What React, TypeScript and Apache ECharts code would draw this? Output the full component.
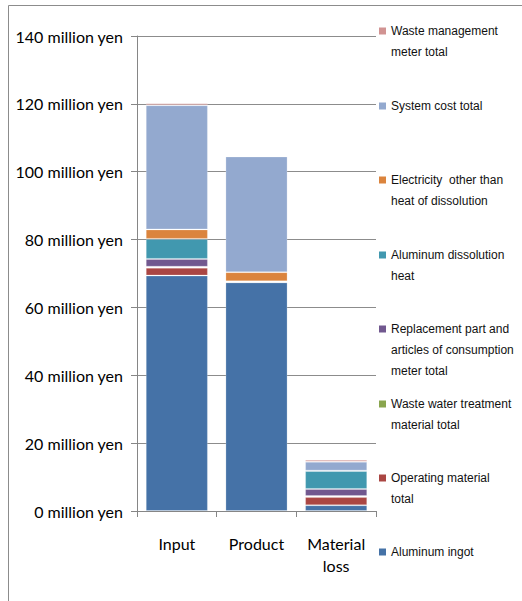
import React, { useEffect, useRef } from 'react';
import * as echarts from 'echarts';

// Categories (x axis)
const categories = ['Input', 'Product', 'Material\nloss'];

// Series (stacked bottom -> top), values in million yen
const seriesNames = [
  'Aluminum ingot',
  'Operating material total',
  'Waste water treatment material total',
  'Replacement part and articles of consumption meter total',
  'Aluminum dissolution heat',
  'Electricity  other than heat of dissolution',
  'System cost total',
  'Waste management meter total',
];
const legendLines = [
  ['Aluminum ingot'],
  ['Operating material', 'total'],
  ['Waste water treatment', 'material total'],
  ['Replacement part and', 'articles of consumption', 'meter total'],
  ['Aluminum dissolution', 'heat'],
  ['Electricity  other than', 'heat of dissolution'],
  ['System cost total'],
  ['Waste management', 'meter total'],
];
const colors = ['#4572A7', '#AA4643', '#89A54E', '#71588F', '#4198AF', '#DB843D', '#93A9CF', '#D19392'];

const aluminumIngot = [69.4, 67.4, 1.7];
const operatingMaterial = [2.3, 0, 2.4];
const wasteWater = [0.3, 0, 0.3];
const replacementPart = [2.3, 0, 2.1];
const dissolutionHeat = [5.9, 0.3, 5.3];
const electricity = [2.8, 2.7, 0.1];
const systemCost = [36.6, 34.1, 2.6];
const wasteManagement = [0.6, 0, 0.6];

const seriesValues = [
  aluminumIngot,
  operatingMaterial,
  wasteWater,
  replacementPart,
  dissolutionHeat,
  electricity,
  systemCost,
  wasteManagement,
];

// y axis
const yMin = 0;
const yMax = 140;
const yStep = 20;
const yUnit = 'million yen';

// layout: first-line text centre of each legend entry (same order as seriesNames)
const legendTextCenters = [556, 482, 408, 333, 259, 184, 110, 35];

export default function App() {
  const ref = useRef<HTMLDivElement>(null);

  useEffect(() => {
    if (!ref.current) return;
    const chart = echarts.init(ref.current, undefined, { renderer: 'svg' });
    const LH = 21;
    const PAD = 8;
    const legends = seriesNames.map((name, i) => {
      const lines = legendLines[i];
      const n = lines.length;
      const top = legendTextCenters[i] - PAD - (n - 1) * LH - LH / 2;
      const text = new Array(n - 1).fill('').concat(lines).join('\n');
      return {
        data: [name],
        orient: 'vertical',
        left: 379,
        top,
        padding: 0,
        itemGap: 0,
        itemWidth: 7,
        itemHeight: 7,
        icon: 'rect',
        selectedMode: false,
        itemStyle: { borderWidth: 0 },
        formatter: () => text,
        textStyle: {
          fontFamily: 'Liberation Sans',
          fontSize: 12,
          color: '#111',
          lineHeight: LH,
          padding: [PAD, 0, 0, 0],
        },
      };
    });

    chart.setOption({
      animation: false,
      color: colors,
      textStyle: { fontFamily: 'Lato' },
      grid: { left: 137, top: 36, right: 146, bottom: 90, containLabel: false },
      legend: legends,
      graphic: [
        {
          type: 'polyline',
          shape: { points: [[8.5, 601], [8.5, 5.5], [522, 5.5]] },
          style: { stroke: '#8c8c8c', lineWidth: 1, fill: 'none' },
          silent: true,
        },
      ],
      xAxis: {
        type: 'category',
        data: categories,
        axisLine: { lineStyle: { color: '#868686', width: 1 } },
        axisTick: { show: true, alignWithLabel: false, length: 6, lineStyle: { color: '#868686' } },
        axisLabel: {
          fontFamily: 'Lato',
          fontSize: 16,
          color: '#000',
          margin: 21,
          lineHeight: 22,
        },
      },
      yAxis: {
        type: 'value',
        min: yMin,
        max: yMax,
        interval: yStep,
        axisLine: { show: true, lineStyle: { color: '#868686', width: 1 } },
        axisTick: { show: true, length: 6, lineStyle: { color: '#868686' } },
        splitLine: { show: true, lineStyle: { color: '#8c8c8c', width: 1 } },
        axisLabel: {
          fontFamily: 'Lato',
          fontSize: 16,
          color: '#000',
          margin: 14,
          formatter: (v: number) => `${v} ${yUnit}`,
        },
      },
      series: seriesNames.map((name, i) => ({
        name,
        type: 'bar',
        stack: 'total',
        data: seriesValues[i],
        barCategoryGap: '22%',
        itemStyle: {
          color: colors[i],
          borderColor: 'rgba(255,255,255,0.22)',
          borderWidth: 1,
        },
      })),
    });
    return () => chart.dispose();
  }, []);

  return (
    <div
      ref={ref}
      style={{ position: 'absolute', left: 0, top: 0, width: 522, height: 601 }}
    />
  );
}
